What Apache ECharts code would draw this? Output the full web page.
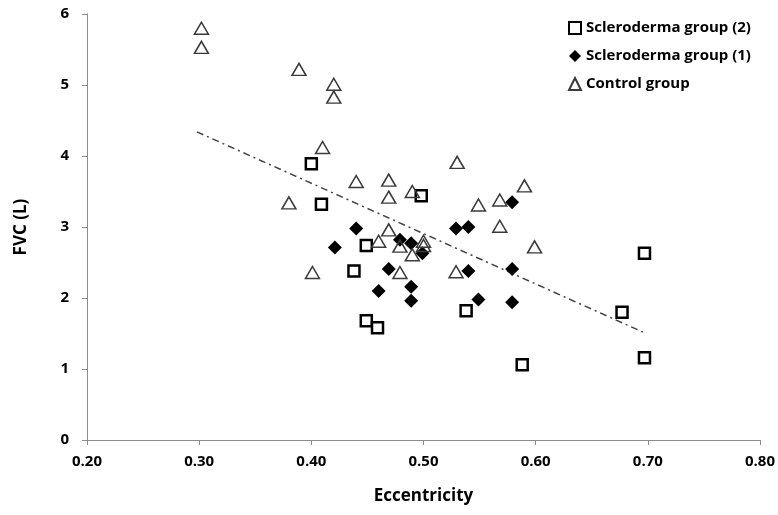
<!DOCTYPE html>
<html>
<head>
<meta charset="utf-8">
<script src="https://cdn.jsdelivr.net/npm/echarts@6/dist/echarts.min.js"></script>
<style>
  html, body { margin: 0; padding: 0; background: #fff; }
  #main { width: 778px; height: 515px; }
</style>
</head>
<body>
<div id="main"></div>
<script>
// Scleroderma group (2) - open squares
var group2X = [0.400, 0.409, 0.498, 0.449, 0.438, 0.449, 0.459, 0.538, 0.588, 0.677, 0.697, 0.697];
var group2Y = [3.89, 3.32, 3.44, 2.74, 2.38, 1.68, 1.58, 1.82, 1.06, 1.80, 2.63, 1.16];

// Scleroderma group (1) - filled diamonds
var group1X = [0.440, 0.421, 0.479, 0.489, 0.499, 0.469, 0.460, 0.489, 0.489, 0.529, 0.540, 0.540, 0.549, 0.579, 0.579, 0.579];
var group1Y = [2.98, 2.71, 2.82, 2.77, 2.63, 2.41, 2.10, 2.16, 1.96, 2.98, 3.00, 2.38, 1.98, 3.35, 2.41, 1.94];

// Control group - open triangles
var controlX = [0.302, 0.302, 0.389, 0.420, 0.420, 0.410, 0.530, 0.440, 0.469, 0.490, 0.590, 0.380, 0.469,
                0.568, 0.549, 0.469, 0.568, 0.460, 0.479, 0.500, 0.500, 0.490, 0.599, 0.401, 0.479, 0.529];
var controlY = [5.80, 5.53, 5.22, 5.01, 4.83, 4.12, 3.91, 3.64, 3.66, 3.50, 3.58, 3.34, 3.42,
                3.38, 3.31, 2.96, 3.01, 2.80, 2.73, 2.80, 2.74, 2.61, 2.72, 2.36, 2.36, 2.37];

// trend line (all points)
var trendX = [0.298, 0.697];
var trendY = [4.34, 1.51];

function pairs(xs, ys) {
  return xs.map(function (x, i) { return [x, ys[i]]; });
}

var font = '"Open Sans", Lato, sans-serif';
var myChart = echarts.init(document.getElementById('main'));

myChart.setOption({
  animation: false,
  grid: { left: 87, right: 18, top: 14, bottom: 75 },
  legend: {
    orient: 'vertical',
    left: 563,
    top: 15,
    itemWidth: 12,
    itemHeight: 12,
    itemGap: 12,
    data: ['Scleroderma group (2)', 'Scleroderma group (1)', 'Control group'],
    textStyle: { fontFamily: font, fontWeight: 'bold', fontSize: 15, color: '#000', lineHeight: 16 }
  },
  xAxis: {
    type: 'value',
    min: 0.2, max: 0.8, interval: 0.1,
    name: 'Eccentricity',
    nameLocation: 'middle',
    nameGap: 48,
    nameTextStyle: { fontFamily: font, fontWeight: 'bold', fontSize: 17, color: '#000' },
    axisLine: { show: true, lineStyle: { color: '#8c8c8c', width: 1 } },
    axisTick: { show: true, length: 5, lineStyle: { color: '#8c8c8c' } },
    splitLine: { show: false },
    axisLabel: {
      margin: 14,
      fontFamily: font, fontWeight: 'bold', fontSize: 15, color: '#000',
      formatter: function (v) { return v.toFixed(2); }
    }
  },
  yAxis: {
    type: 'value',
    min: 0, max: 6, interval: 1,
    name: 'FVC (L)',
    nameLocation: 'middle',
    nameGap: 57,
    nameTextStyle: { fontFamily: font, fontWeight: 'bold', fontSize: 17, color: '#000' },
    axisLine: { show: true, lineStyle: { color: '#8c8c8c', width: 1 } },
    axisTick: { show: true, length: 5, lineStyle: { color: '#8c8c8c' } },
    splitLine: { show: false },
    axisLabel: { margin: 18, fontFamily: font, fontWeight: 'bold', fontSize: 15, color: '#000' }
  },
  series: [
    {
      name: 'trend',
      type: 'line',
      data: pairs(trendX, trendY),
      symbol: 'none',
      silent: true,
      lineStyle: { color: '#444', width: 1.5, type: [7, 4, 2, 4] },
      z: 1
    },
    {
      name: 'Scleroderma group (2)',
      type: 'scatter',
      symbol: 'rect',
      symbolSize: 11,
      data: pairs(group2X, group2Y),
      itemStyle: { color: '#fff', borderColor: '#000', borderWidth: 2.5, opacity: 1 },
      z: 2
    },
    {
      name: 'Scleroderma group (1)',
      type: 'scatter',
      symbol: 'diamond',
      symbolSize: 14,
      data: pairs(group1X, group1Y),
      itemStyle: { color: '#000', borderWidth: 0, opacity: 1 },
      z: 3
    },
    {
      name: 'Control group',
      type: 'scatter',
      symbol: 'triangle',
      symbolSize: [14, 12],
      data: pairs(controlX, controlY),
      itemStyle: { color: 'rgba(255,255,255,0)', borderColor: '#3a3a3a', borderWidth: 1.5, opacity: 1 },
      z: 4
    }
  ]
});
</script>
</body>
</html>
